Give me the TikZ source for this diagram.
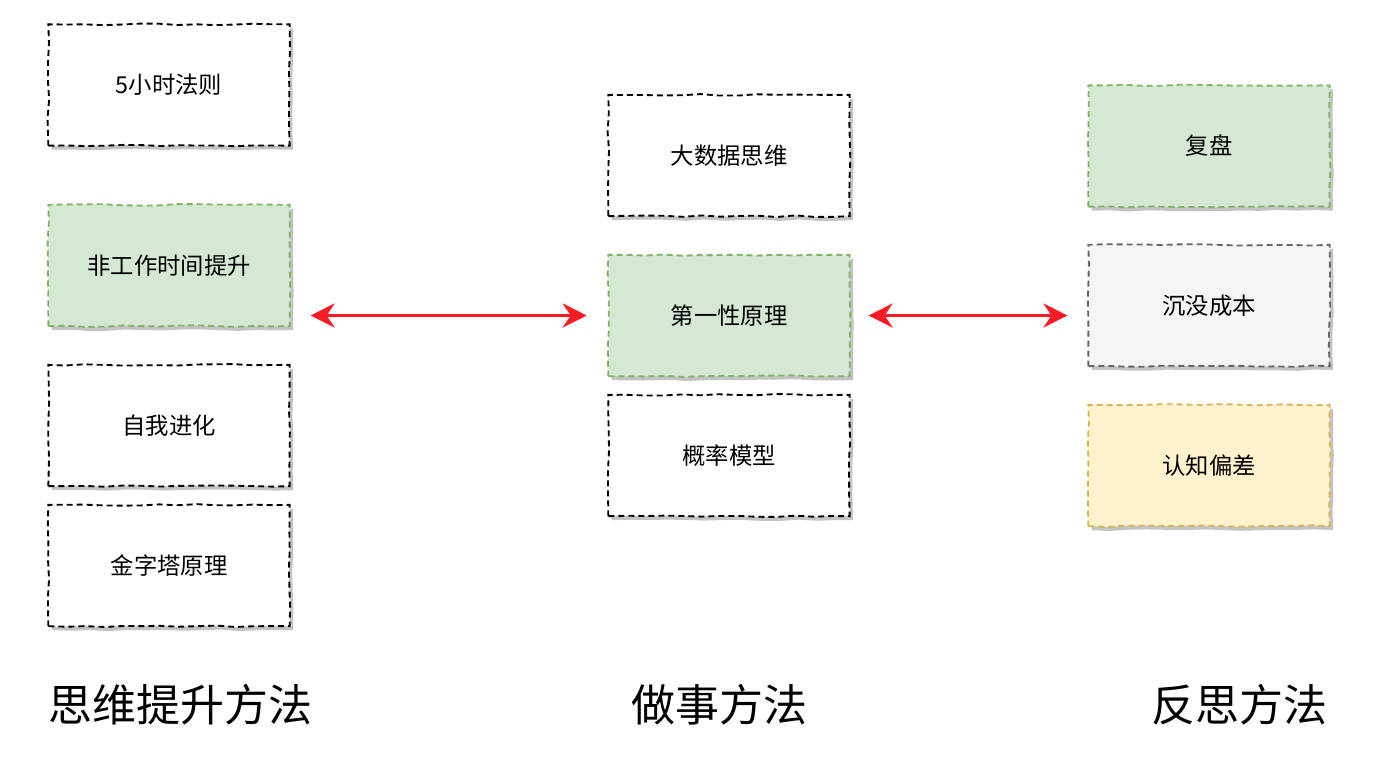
\documentclass[tikz,border=0pt]{standalone}
\usepackage{fontspec}
\setmainfont{Noto Sans CJK SC}
\usetikzlibrary{arrows.meta}
\usetikzlibrary{shadows}
\usetikzlibrary{decorations.pathmorphing}
\definecolor{greenfill}{HTML}{D5E8D4}
\definecolor{greenline}{HTML}{82B366}
\definecolor{grayfill}{HTML}{F5F5F5}
\definecolor{grayline}{HTML}{666666}
\definecolor{yellowfill}{HTML}{FFF2CC}
\definecolor{yellowline}{HTML}{D6B656}
\definecolor{shadowgray}{HTML}{C3C3C3}
\definecolor{arrowred}{HTML}{FF1A24}
\tikzset{
    card/.style={draw=black, fill=white, line width=1.4pt, dash pattern={on 4.5pt off 3pt},
        minimum width=181pt, minimum height=91pt, inner sep=0pt,
        font=\fontsize{17.5pt}{20pt}\selectfont,
        decorate, decoration={random steps, segment length=14pt, amplitude=0.6pt},
        drop shadow={shadow xshift=2.5pt, shadow yshift=-3pt, fill=shadowgray, opacity=1}},
    greencard/.style={card, draw=greenline, fill=greenfill},
    graycard/.style={card, draw=grayline, fill=grayfill},
    yellowcard/.style={card, draw=yellowline, fill=yellowfill},
    biarrow/.style={draw=arrowred, line width=2.8pt, {Stealth[length=18pt, width=18pt, inset=6pt]}-{Stealth[length=18pt, width=18pt, inset=6pt]}},
    heading/.style={inner sep=0pt, font=\fontsize{33pt}{39pt}\selectfont}
}
\begin{document}
\begin{tikzpicture}[x=0.75pt,y=0.75pt,yscale=-1,xscale=1]
\pgfmathsetseed{7}
\useasboundingbox (0,0) rectangle (1398,768);

%Shape: Rectangle [left column]
\node [card] (hour) at (169,85) {5小时法则};
\node [greencard] (work) at (169,265.5) {非工作时间提升};
\node [card] (evolve) at (169,425.5) {自我进化};
\node [card] (pyramid) at (169,565.5) {金字塔原理};

%Shape: Rectangle [middle column]
\node [card] (bigdata) at (729,155.5) {大数据思维};
\node [greencard] (first) at (729,315.5) {第一性原理};
\node [card] (prob) at (729,455.5) {概率模型};

%Shape: Rectangle [right column]
\node [greencard] (replay) at (1209,146) {复盘};
\node [graycard] (sunk) at (1209,305.5) {沉没成本};
\node [yellowcard] (bias) at (1209,465.5) {认知偏差};

%Straight Lines [double arrows]
\draw [biarrow] ([xshift=15pt]work.east |- first.west) -- ([xshift=-15.5pt]first.west);
\draw [biarrow] ([xshift=13.5pt]first.east) -- ([xshift=-15pt]sunk.west |- first.east);

% Text Node
\node [heading, anchor=west] (thinktitle) at (48,705) {思维提升方法};
% Text Node
\node [heading] (dotitle) at (719,705) {做事方法};
% Text Node
\node [heading] (reflecttitle) at (1239,705) {反思方法};

\end{tikzpicture}
\end{document}
